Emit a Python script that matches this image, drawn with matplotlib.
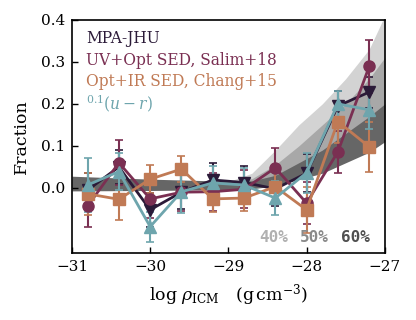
import matplotlib
matplotlib.use("Agg")
import matplotlib.pyplot as plt
import numpy as np

plt.rcParams['font.family'] = 'DejaVu Serif'
plt.rcParams['mathtext.fontset'] = 'dejavuserif'

# bin centres
x = [-30.8, -30.4, -30.0, -29.6, -29.2, -28.8, -28.4, -28.0, -27.6, -27.2]

mpa = [-0.005, 0.05, -0.052, -0.01, 0.019, 0.013, -0.002, 0.035, 0.195, 0.228]
mpa_err = [0.04, 0.04, 0.04, 0.04, 0.04, 0.04, 0.04, 0.045, 0.035, 0.037]
salim = [-0.043, 0.06, -0.026, -0.01, -0.009, -0.003, 0.048, -0.036, 0.086, 0.289]
salim_err = [0.05, 0.053, 0.045, 0.045, 0.045, 0.045, 0.047, 0.05, 0.05, 0.063]
chang = [-0.014, -0.027, 0.021, 0.045, -0.026, -0.024, 0.003, -0.052, 0.158, 0.098]
chang_err = [0.05, 0.05, 0.034, 0.03, 0.03, 0.03, 0.035, 0.055, 0.05, 0.06]
ur = [0.007, 0.039, -0.092, -0.009, 0.012, 0.007, -0.024, 0.036, 0.2, 0.186]
ur_err = [0.065, 0.045, 0.036, 0.05, 0.04, 0.04, 0.04, 0.047, 0.03, 0.045]

# model bands
bx = [-31.0, -30.0, -29.0, -28.7, -28.4, -28.1, -27.8, -27.5, -27.2, -27.0]
b40_lo = [0.0, 0.0, 0.002, 0.008, 0.02, 0.045, 0.07, 0.1, 0.13, 0.15]
b40_hi = [0.015, 0.013, 0.015, 0.035, 0.09, 0.15, 0.2, 0.26, 0.33, 0.41]
b50_lo = [-0.003, -0.002, 0.0, 0.003, 0.012, 0.03, 0.05, 0.075, 0.1, 0.12]
b50_hi = [0.02, 0.016, 0.014, 0.022, 0.055, 0.1, 0.15, 0.2, 0.26, 0.31]
b60_lo = [-0.007, -0.006, -0.004, -0.002, 0.005, 0.02, 0.035, 0.06, 0.085, 0.11]
b60_hi = [0.028, 0.021, 0.016, 0.017, 0.03, 0.06, 0.09, 0.13, 0.17, 0.2]

labels = ['MPA-JHU', 'UV+Opt SED, Salim+18', 'Opt+IR SED, Chang+15', r'$^{0.1}(u-r)$']
colors = ['#2b1a38', '#7a2f52', '#c07a55', '#6ea5ad']
pct_labels = ['40%', '50%', '60%']
pct_colors = ['#b0b0b0', '#8a8a8a', '#505050']

fig = plt.figure(figsize=(4.16, 3.2), dpi=100)
ax = fig.add_axes([0.173, 0.209, 0.752, 0.729])

ax.fill_between(bx, b40_lo, b40_hi, color='#d3d3d3', lw=0, zorder=1)
ax.fill_between(bx, b50_lo, b50_hi, color='#a8a8a8', lw=0, zorder=1.1)
ax.fill_between(bx, b60_lo, b60_hi, color='#666666', lw=0, zorder=1.2)

series = [(mpa, mpa_err, 'v'), (salim, salim_err, 'o'), (chang, chang_err, 's'), (ur, ur_err, '^')]
for (y, e, m), c in zip(series, colors):
    ax.errorbar(x, y, yerr=e, color=c, marker=m, ms=8, lw=2, elinewidth=1.5,
                capsize=3, capthick=1.2, zorder=3)

for i, (lab, c) in enumerate(zip(labels, colors)):
    ax.text(0.045, 0.918 - i * 0.092, lab, color=c, fontsize=11.2, transform=ax.transAxes,
            va='center', ha='left')

for xp, lab, c in zip([-28.42, -27.9, -27.37], pct_labels, pct_colors):
    ax.text(xp, -0.117, lab, color=c, fontsize=11.5, family='DejaVu Sans Mono',
            fontweight='bold', ha='center', va='center')

ax.set_xlim(-31, -27)
ax.set_ylim(-0.155, 0.4)
ax.set_xticks([-31, -30, -29, -28, -27])
ax.set_yticks([0.0, 0.1, 0.2, 0.3, 0.4])
ax.set_yticklabels(['0.0', '0.1', '0.2', '0.3', '0.4'])
ax.tick_params(direction='in', labelsize=11, length=4, width=1, pad=5)
for s in ax.spines.values():
    s.set_linewidth(1.2)
ax.set_xlabel(r'$\log\,\rho_{\rm ICM}\quad({\rm g\,cm^{-3}})$', fontsize=12.5, labelpad=6)
ax.set_ylabel('Fraction', fontsize=12.5, labelpad=8)

fig.savefig('out.png', dpi=100)
